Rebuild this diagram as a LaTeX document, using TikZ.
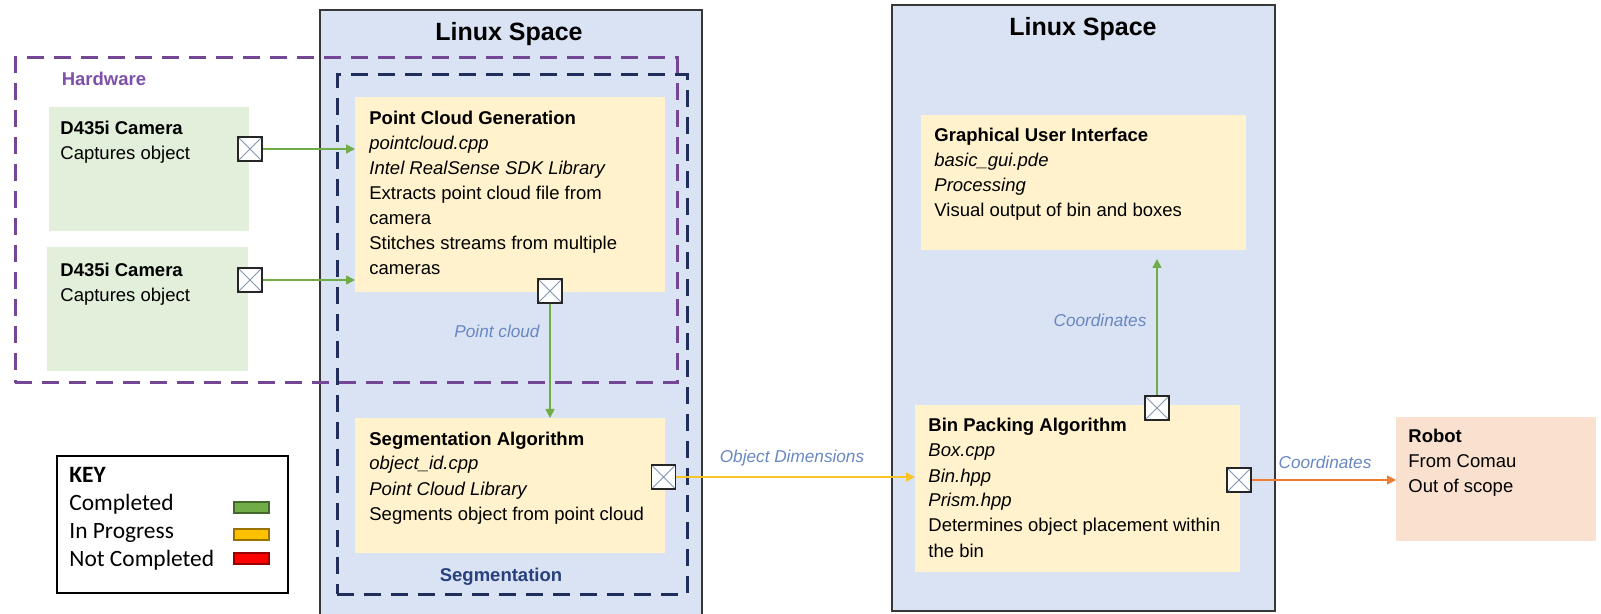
\documentclass[tikz,border=0pt]{standalone}
\usepackage{fontspec}
\setmainfont{Liberation Sans}
\newfontfamily\keyfont{Carlito}
\usetikzlibrary{arrows.meta,calc}
\definecolor{linuxfill}{RGB}{218,227,243}
\definecolor{linuxdraw}{RGB}{55,55,55}
\definecolor{yfill}{RGB}{255,242,204}
\definecolor{gfill}{RGB}{226,239,218}
\definecolor{rfill}{RGB}{250,224,206}
\definecolor{hwpurple}{RGB}{115,70,150}
\definecolor{hwtext}{RGB}{125,80,170}
\definecolor{segnavy}{RGB}{31,46,90}
\definecolor{segtext}{RGB}{40,65,125}
\definecolor{lblblue}{RGB}{105,135,195}
\definecolor{agreen}{RGB}{112,173,71}
\definecolor{ayellow}{RGB}{250,195,40}
\definecolor{aorange}{RGB}{237,125,49}
\definecolor{keygreen}{RGB}{112,173,71}
\definecolor{keyyellow}{RGB}{255,192,0}
\definecolor{keyred}{RGB}{255,0,0}
\definecolor{xdiag}{RGB}{130,150,175}
\begin{document}
\begin{tikzpicture}[x=0.5pt,y=-0.5pt,
  boxbase/.style={rectangle, anchor=north west, inner sep=0pt, outer sep=0pt},
  linuxbox/.style={boxbase, draw=linuxdraw, line width=0.7pt, fill=linuxfill},
  hwdash/.style={boxbase, draw=hwpurple, line width=1.5pt, dash pattern=on 8.5pt off 5pt},
  segdash/.style={boxbase, draw=segnavy, line width=1.5pt, dash pattern=on 8.5pt off 5pt},
  greenbox/.style={boxbase, fill=gfill},
  yellowbox/.style={boxbase, fill=yfill},
  robotbox/.style={boxbase, fill=rfill},
  keybox/.style={boxbase, draw=black, line width=0.8pt, fill=white},
  swatch/.style={rectangle, inner sep=0pt, minimum width=17.5pt, minimum height=5.5pt, line width=0.6pt},
  xbox/.style={rectangle, draw=black!85, line width=0.7pt, fill=white, minimum size=12pt, inner sep=0pt,
    path picture={\draw[xdiag, line width=0.5pt] (path picture bounding box.north west) -- (path picture bounding box.south east)
      (path picture bounding box.north east) -- (path picture bounding box.south west);}},
  bodytxt/.style={anchor=base west, inner sep=0pt, font=\fontsize{9.25pt}{12.5pt}\selectfont},
  titletxt/.style={anchor=base, inner sep=0pt, font=\fontsize{12.5pt}{14pt}\selectfont\bfseries},
  lbl/.style={anchor=base, inner sep=0pt, text=lblblue, font=\fontsize{8.6pt}{10pt}\selectfont\itshape},
  garrow/.style={draw=agreen, line width=0.8pt, -{Triangle[length=4.5pt,width=4.5pt]}},
  yarrow/.style={draw=ayellow, line width=0.8pt, -{Triangle[length=4.5pt,width=4.5pt]}},
  oarrow/.style={draw=aorange, line width=0.8pt, -{Triangle[length=4.5pt,width=4.5pt]}}
]
\useasboundingbox (0,0) rectangle (1601,614);
\begin{scope}
\clip (0,0) rectangle (1601,614);
\node[linuxbox, minimum width=191pt, minimum height=305pt] (linuxA) at (320,10) {};
\end{scope}
\node[linuxbox, minimum width=191.5pt, minimum height=303pt] (linuxB) at (892,5) {};
\node[titletxt] (titleA) at (509,41) {Linux Space};
\node[titletxt] (titleB) at (1083,36) {Linux Space};

% hardware / segmentation groups
\node[hwdash, minimum width=331pt, minimum height=162.5pt] (hw) at (15,58) {};
\node[anchor=base, inner sep=0pt, text=hwtext, font=\fontsize{9.25pt}{11pt}\selectfont\bfseries] (hwlabel) at (104,86) {Hardware};
\node[segdash, minimum width=175pt, minimum height=259.5pt] (segg) at (337,75) {};
\node[anchor=base, inner sep=0pt, text=segtext, font=\fontsize{9.25pt}{11pt}\selectfont\bfseries] (seglabel) at (501,581) {Segmentation};

% boxes
\node[greenbox, minimum width=100pt, minimum height=62pt] (cam1) at (49,107) {};
\node[greenbox, minimum width=100.5pt, minimum height=62pt] (cam2) at (47,247) {};
\node[yellowbox, minimum width=155pt, minimum height=97.5pt] (pcg) at (355,97) {};
\node[yellowbox, minimum width=155pt, minimum height=67.5pt] (seg) at (355,418) {};
\node[yellowbox, minimum width=162.5pt, minimum height=67.5pt] (gui) at (921,115) {};
\node[yellowbox, minimum width=162.5pt, minimum height=83.5pt] (bin) at (915,405) {};
\node[robotbox, minimum width=100pt, minimum height=62pt] (robot) at (1396,417) {};

% texts
\node[bodytxt] (cam1t) at (60,135) {\parbox[t]{95pt}{\textbf{D435i Camera}\\Captures object}};
\node[bodytxt] (cam2t) at (60,277) {\parbox[t]{95pt}{\textbf{D435i Camera}\\Captures object}};
\node[bodytxt] (pcgt) at (369,125) {\parbox[t]{150pt}{\textbf{Point Cloud Generation}\\\textit{pointcloud.cpp}\\\textit{Intel RealSense SDK Library}\\Extracts point cloud file from\\camera\\Stitches streams from multiple\\cameras}};
\node[bodytxt] (segt) at (369,445) {\parbox[t]{150pt}{\textbf{Segmentation Algorithm}\\\textit{object\_id.cpp}\\\textit{Point Cloud Library}\\Segments object from point cloud}};
\node[bodytxt] (guit) at (934,142) {\parbox[t]{155pt}{\textbf{Graphical User Interface}\\\textit{basic\_gui.pde}\\\textit{Processing}\\Visual output of bin and boxes}};
\node[bodytxt] (bint) at (928,432) {\parbox[t]{155pt}{\textbf{Bin Packing Algorithm}\\\textit{Box.cpp}\\\textit{Bin.hpp}\\\textit{Prism.hpp}\\Determines object placement within\\the bin}};
\node[bodytxt] (robt) at (1408,443) {\parbox[t]{95pt}{\textbf{Robot}\\From Comau\\Out of scope}};

% key
\node[keybox, minimum width=115.5pt, minimum height=68.5pt] (key) at (57,456) {};
\node[anchor=base west, inner sep=0pt, font=\keyfont\fontsize{11.7pt}{13.5pt}\selectfont] (keyt) at (69,482)
  {\parbox[t]{80pt}{\textbf{KEY}\\[0.6pt]Completed\\[0.6pt]In Progress\\[0.6pt]Not Completed}};
\node[swatch, draw=keygreen!60!black, fill=keygreen] (swg) at (251.5,507.5) {};
\node[swatch, draw=keyyellow!60!black, fill=keyyellow] (swy) at (251.5,534.5) {};
\node[swatch, draw=keyred!60!black, fill=keyred] (swr) at (251.5,558.5) {};

% connector markers
\node[xbox] (x1) at (250,149) {};
\node[xbox] (x2) at (250,280) {};
\node[xbox] (xpcg) at (550,291) {};
\node[xbox] (xseg) at (663.5,477) {};
\node[xbox] (xbt) at (1157,408) {};
\node[xbox] (xbr) at (1239,480) {};
\coordinate (guitip) at (1157,259);

% connectors
\draw[garrow] (x1.east) -- (x1.east -| pcg.west);
\draw[garrow] (x2.east) -- (x2.east -| pcg.west);
\draw[garrow] (xpcg.south) -- (xpcg.south |- seg.north);
\draw[yarrow] (xseg.east) -- (xseg.east -| bin.west);
\draw[garrow] (xbt.north) -- (guitip);
\draw[oarrow] (xbr.east) -- (xbr.east -| robot.west);

% redraw markers on top
\node[xbox] at (x1) {};
\node[xbox] at (x2) {};
\node[xbox] at (xpcg) {};
\node[xbox] at (xseg) {};
\node[xbox] at (xbt) {};
\node[xbox] at (xbr) {};

% labels
\node[lbl] (lpc) at (497,338) {Point cloud};
\node[lbl] (lod) at (792,463) {Object Dimensions};
\node[lbl] (lc1) at (1100,327) {Coordinates};
\node[lbl] (lc2) at (1325,468) {Coordinates};
\end{tikzpicture}
\end{document}
